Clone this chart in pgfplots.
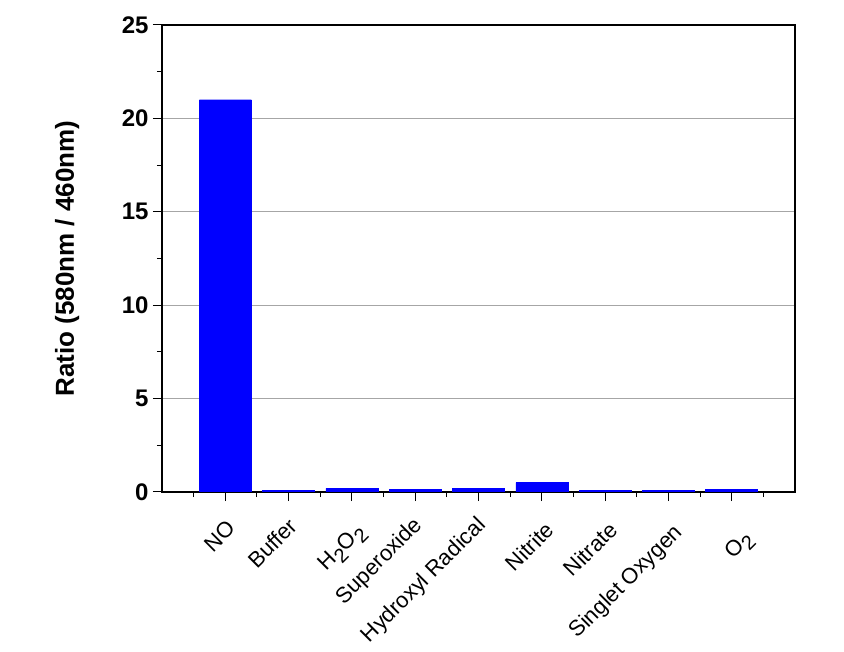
\documentclass[border=0pt]{standalone}
\usepackage{pgfplots}
\pgfplotsset{compat=1.18}
\usepackage{fontspec}
\setmainfont{Liberation Sans}
\newcommand{\lab}[3]{\raisebox{#2}[\height][\depth]{#3}\hspace{#1}}
\newcommand{\sub}[1]{\raisebox{-6pt}{\fontsize{20}{20}\selectfont #1}}
\begin{document}
\begin{tikzpicture}
\begin{axis}[
  at={(0,0)}, anchor=south west,
  scale only axis, width=633pt, height=467pt,
  xmin=-1, xmax=9, ymin=0, ymax=25,
  ybar, bar width=52pt,
  xtick={0,1,2,3,4,5,6,7,8},
  xticklabels={
    {\lab{0pt}{-3pt}{NO}},
    {Buffer},
    {\lab{-4.9pt}{-9.2pt}{H\sub{2}O\sub{2}}},
    {Superoxide},
    {Hydroxyl Radical},
    {\lab{5.7pt}{-5.7pt}{Nitrite}},
    {\lab{5.7pt}{-5.7pt}{Nitrate}},
    {\lab{-12.7pt}{-9.9pt}{Singlet Oxygen}},
    {\lab{-1.4pt}{-19.8pt}{O\sub{2}}}},
  minor xtick={-0.5,0.5,1.5,2.5,3.5,4.5,5.5,6.5,7.5,8.5},
  ytick={0,5,10,15,20,25},
  minor ytick={2.5,7.5,12.5,17.5,22.5},
  xtick pos=bottom, ytick pos=left,
  tick align=outside,
  major tick length=9pt, minor tick length=5pt,
  every tick/.style={black, line width=1pt},
  axis line style={line width=1.2pt},
  ymajorgrids, grid style={gray!70, line width=0.8pt},
  /pgf/number format/assume math mode=true,
  yticklabel style={font=\bfseries\fontsize{24}{24}\selectfont, xshift=-1pt},
  xticklabel style={font=\fontsize{22}{22}\selectfont, rotate=45, anchor=east, yshift=-18pt, xshift=-8.7pt},
  ylabel={Ratio (580nm / 460nm)},
  ylabel style={font=\bfseries\fontsize{26}{26}\selectfont, at={(axis description cs:-0.150,0.5)}, anchor=center},
]
\addplot[draw=blue, fill=blue] coordinates {(0,21.0) (1,0.1) (2,0.2) (3,0.15) (4,0.2) (5,0.5) (6,0.1) (7,0.1) (8,0.15)};
\end{axis}
\path[use as bounding box] (-162pt,-157pt) rectangle (682pt,492pt);
\end{tikzpicture}
\end{document}
